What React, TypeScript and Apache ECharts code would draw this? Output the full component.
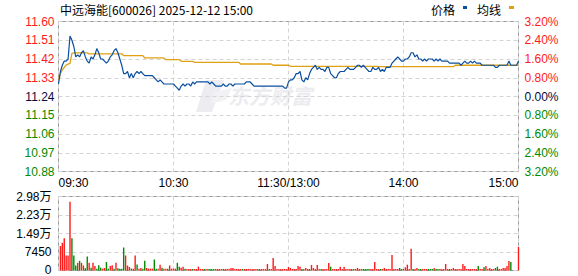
import React, { useEffect, useRef } from "react";
import * as echarts from "echarts";

// ---- data ----
const timeLabels = ["09:30", "10:30", "11:30/13:00", "14:00", "15:00"];
const priceTicks = ["10.88", "10.97", "11.06", "11.15", "11.24", "11.33", "11.42", "11.51", "11.60"];
const pctTicks = ["3.20%", "2.40%", "1.60%", "0.80%", "0.00%", "0.80%", "1.60%", "2.40%", "3.20%"];
const volTicks = ["0", "7450", "1.49万", "2.23万", "2.98万"];
const priceMin = 10.88;
const priceMax = 11.6;
const volMax = 29800;

const prices = [
  11.30, 11.36, 11.39, 11.41, 11.41, 11.42, 11.53, 11.51, 11.48, 11.43,
  11.44, 11.43, 11.45, 11.46, 11.43, 11.41, 11.40, 11.43, 11.42, 11.44,
  11.47, 11.45, 11.42, 11.42, 11.41, 11.40, 11.41, 11.43, 11.44, 11.46,
  11.47, 11.45, 11.42, 11.39, 11.35, 11.35, 11.36, 11.33, 11.35, 11.33,
  11.35, 11.36, 11.35, 11.36, 11.35, 11.34, 11.34, 11.34, 11.34, 11.34,
  11.33, 11.32, 11.31, 11.32, 11.31, 11.30, 11.30, 11.30, 11.30, 11.30,
  11.30, 11.29, 11.28, 11.27, 11.29, 11.30, 11.29, 11.30, 11.30, 11.29,
  11.31, 11.30, 11.31, 11.31, 11.31, 11.31, 11.31, 11.31, 11.31, 11.30,
  11.31, 11.30, 11.29, 11.29, 11.29, 11.29, 11.30, 11.29, 11.29, 11.30,
  11.30, 11.29, 11.30, 11.30, 11.30, 11.30, 11.30, 11.30, 11.31, 11.31,
  11.31, 11.30, 11.29, 11.29, 11.29, 11.29, 11.29, 11.29, 11.29, 11.29,
  11.29, 11.29, 11.29, 11.29, 11.29, 11.29, 11.29, 11.29, 11.28, 11.28,
  11.31, 11.32, 11.32, 11.33, 11.35, 11.35, 11.36, 11.32, 11.31, 11.33,
  11.32, 11.35, 11.37, 11.38, 11.39, 11.37, 11.38, 11.37, 11.37, 11.36,
  11.38, 11.38, 11.35, 11.34, 11.33, 11.33, 11.35, 11.36, 11.36, 11.36,
  11.37, 11.38, 11.37, 11.37, 11.37, 11.38, 11.39, 11.39, 11.38, 11.39,
  11.38, 11.37, 11.36, 11.36, 11.38, 11.37, 11.37, 11.38, 11.36, 11.37,
  11.36, 11.38, 11.38, 11.38, 11.40, 11.41, 11.42, 11.43, 11.42, 11.41,
  11.41, 11.42, 11.42, 11.43, 11.45, 11.45, 11.43, 11.44, 11.42, 11.42,
  11.41, 11.42, 11.41, 11.42, 11.42, 11.42, 11.41, 11.42, 11.41, 11.42,
  11.41, 11.41, 11.41, 11.41, 11.40, 11.40, 11.40, 11.40, 11.40, 11.40,
  11.39, 11.40, 11.41, 11.40, 11.40, 11.41, 11.40, 11.41, 11.40, 11.40,
  11.40, 11.39, 11.39, 11.39, 11.39, 11.39, 11.39, 11.39, 11.38, 11.38,
  11.39, 11.39, 11.39, 11.39, 11.39, 11.41, 11.39, 11.39, 11.39, 11.39,
  11.41,
];

const avgPrices = [
  11.319, 11.350, 11.367, 11.380, 11.391, 11.395, 11.399, 11.447, 11.449, 11.449,
  11.449, 11.449, 11.449, 11.449, 11.449, 11.449, 11.445, 11.445, 11.445, 11.445,
  11.445, 11.445, 11.445, 11.445, 11.445, 11.445, 11.445, 11.445, 11.445, 11.445,
  11.445, 11.445, 11.445, 11.445, 11.436, 11.436, 11.436, 11.436, 11.436, 11.436,
  11.436, 11.436, 11.436, 11.436, 11.436, 11.425, 11.425, 11.425, 11.425, 11.425,
  11.425, 11.425, 11.425, 11.425, 11.425, 11.425, 11.417, 11.417, 11.417, 11.417,
  11.417, 11.417, 11.417, 11.417, 11.409, 11.409, 11.409, 11.409, 11.409, 11.409,
  11.409, 11.404, 11.404, 11.404, 11.404, 11.404, 11.404, 11.404, 11.404, 11.404,
  11.404, 11.404, 11.404, 11.404, 11.404, 11.404, 11.404, 11.404, 11.404, 11.404,
  11.404, 11.404, 11.404, 11.404, 11.404, 11.396, 11.396, 11.396, 11.396, 11.396,
  11.396, 11.396, 11.396, 11.396, 11.396, 11.396, 11.396, 11.396, 11.396, 11.396,
  11.396, 11.396, 11.390, 11.390, 11.390, 11.390, 11.390, 11.390, 11.390, 11.390,
  11.390, 11.385, 11.385, 11.385, 11.385, 11.385, 11.385, 11.385, 11.385, 11.385,
  11.385, 11.385, 11.385, 11.385, 11.385, 11.385, 11.385, 11.385, 11.385, 11.385,
  11.385, 11.385, 11.385, 11.385, 11.385, 11.385, 11.385, 11.385, 11.385, 11.385,
  11.385, 11.385, 11.385, 11.385, 11.385, 11.385, 11.385, 11.385, 11.385, 11.385,
  11.385, 11.385, 11.385, 11.385, 11.385, 11.385, 11.385, 11.383, 11.383, 11.383,
  11.383, 11.383, 11.383, 11.383, 11.383, 11.383, 11.383, 11.383, 11.383, 11.383,
  11.383, 11.383, 11.383, 11.383, 11.383, 11.383, 11.383, 11.383, 11.383, 11.383,
  11.383, 11.383, 11.383, 11.383, 11.383, 11.383, 11.383, 11.383, 11.383, 11.383,
  11.383, 11.383, 11.383, 11.383, 11.383, 11.383, 11.383, 11.390, 11.390, 11.390,
  11.390, 11.390, 11.390, 11.390, 11.390, 11.390, 11.390, 11.390, 11.390, 11.390,
  11.390, 11.390, 11.390, 11.390, 11.390, 11.390, 11.390, 11.390, 11.390, 11.390,
  11.390, 11.390, 11.390, 11.390, 11.390, 11.390, 11.390, 11.390, 11.390, 11.390,
  11.390,
];

const volumes = [
  0, 9870, 11150, 13020, 6040, 6040, 27700, 13020, 6040, 2010,
  3090, 3890, 3090, 2010, 940, 5640, 3090, 1140, 3090, 1810,
  740, 2080, 1140, 740, 1000, 3420, 740, 1810, 2080, 740,
  3090, 900, 740, 740, 9260, 6040, 2010, 1400, 740, 700,
  6040, 2420, 740, 1000, 740, 3890, 1000, 740, 740, 740,
  4430, 740, 740, 2280, 1140, 740, 740, 740, 2010, 740,
  740, 740, 3090, 1540, 1140, 1540, 740, 600, 600, 600,
  600, 600, 600, 1540, 600, 600, 600, 600, 600, 600,
  600, 600, 600, 600, 600, 600, 600, 600, 600, 600,
  1000, 1000, 600, 600, 600, 600, 600, 600, 600, 600,
  600, 600, 600, 600, 600, 600, 600, 600, 600, 2620,
  600, 600, 5030, 1810, 600, 600, 600, 600, 600, 600,
  1400, 1000, 600, 600, 600, 1810, 1540, 600, 600, 1000,
  600, 600, 2210, 1000, 600, 2210, 600, 600, 600, 600,
  600, 3020, 1540, 600, 600, 600, 600, 1540, 600, 1540,
  600, 600, 600, 600, 600, 600, 1000, 600, 600, 600,
  600, 600, 600, 600, 600, 3420, 600, 600, 600, 600,
  1000, 600, 600, 600, 6240, 600, 600, 600, 1000, 600,
  600, 1270, 2350, 600, 8790, 600, 600, 1000, 600, 600,
  600, 600, 600, 600, 600, 600, 1000, 600, 600, 600,
  600, 600, 2620, 600, 600, 600, 1000, 600, 600, 600,
  600, 2620, 1810, 600, 600, 600, 600, 600, 600, 1810,
  600, 600, 1270, 1810, 600, 1000, 600, 600, 1000, 1540,
  600, 600, 1000, 1000, 1810, 3820, 3420, 0, 0, 0,
  9460,
];

// r = up (red), g = down (green)
const volDirections = [
  "rrrrrrrggg", "rgrrggrgrr", "gggrrggrrg", "rggggrrrgr", "rgrrggrrrr",
  "ggrrgrrgrr", "rrggrrgrrr", "grrrrrgrgg", "ggrrrrgrrr", "rrrrrrgrrr",
  "rrrrgrrrrr", "grrrrrrrrr", "rrrrrrrgrr", "rgrrrrrgrr", "rrgrrrrrrr",
  "rrrgrrrrrg", "gggrrrrrgr", "rrrrrrrrgg", "rrrrrgrrgg", "rrrgggrggr",
  "rrrrgrrrrr", "rrrrrrrrrg", "rrgrrrrrgg", "rrrrrrgrrr", "r",
].join("");

// ---- styles ----
const RED = "#ff1a1a";
const GREEN = "#008a00";
const NEUTRAL = "#0a0a3c";
const BLUE = "#0a4fa0";
const GOLD = "#dfa014";
const BORDER = "#999999";
const DASH = "#d4d4d4";
const FONT = "Arial, 'Liberation Sans', sans-serif";
const CJK = "'Noto Sans CJK SC', Arial, sans-serif";
const MIXED = "Arial, 'Liberation Sans', 'Noto Sans CJK SC', sans-serif";

function tickColor(i: number) {
  if (i > 4) return RED;
  if (i < 4) return GREEN;
  return NEUTRAL;
}

export default function App() {
  const ref = useRef<HTMLDivElement>(null);

  useEffect(() => {
    if (!ref.current) return;
    const chart = echarts.init(ref.current, null, { renderer: "svg" });

    const dashed = { show: true, lineStyle: { color: DASH, type: [4, 3] as any, width: 1 } };
    const gridBase = { show: true, borderColor: BORDER, borderWidth: 1, backgroundColor: "transparent", left: 58.5, width: 460 };

    chart.setOption({
      animation: false,
      grid: [
        { ...gridBase, top: 21.5, height: 150 },
        { ...gridBase, top: 196.5, height: 74 },
      ],
      xAxis: [
        {
          gridIndex: 0, type: "value", min: 0, max: 240, interval: 60,
          axisLine: { show: false }, axisTick: { show: false },
          axisLabel: {
            formatter: (v: number) => timeLabels[Math.round(v / 60)],
            color: "#000", fontSize: 12, fontFamily: FONT, margin: 5,
            alignMinLabel: "left", alignMaxLabel: "right",
          },
          splitLine: dashed,
        },
        {
          gridIndex: 1, type: "value", min: 0, max: 240, interval: 60,
          axisLine: { show: false }, axisTick: { show: false },
          axisLabel: { show: false },
          splitLine: dashed,
        },
      ],
      yAxis: [
        {
          gridIndex: 0, type: "value", min: priceMin, max: priceMax, position: "left",
          axisLine: { show: false }, axisTick: { show: false },
          axisLabel: { show: false }, splitLine: { show: false },
        },
        {
          gridIndex: 0, type: "value", min: 0, max: 8, interval: 1, position: "left",
          axisLine: { show: false }, axisTick: { show: false },
          axisLabel: {
            formatter: (v: number) => priceTicks[Math.round(v)],
            color: (v: any) => tickColor(Math.round(Number(v))),
            fontSize: 12, fontFamily: FONT, margin: 4,
          },
          splitLine: dashed,
        },
        {
          gridIndex: 0, type: "value", min: 0, max: 8, interval: 1, position: "right",
          axisLine: { show: false }, axisTick: { show: false },
          axisLabel: {
            formatter: (v: number) => pctTicks[Math.round(v)],
            color: (v: any) => tickColor(Math.round(Number(v))),
            fontSize: 12, fontFamily: FONT, margin: 6,
          },
          splitLine: { show: false },
        },
        {
          gridIndex: 1, type: "value", min: 0, max: volMax, interval: volMax / 4, position: "left",
          axisLine: { show: false }, axisTick: { show: false },
          axisLabel: {
            showMinLabel: false,
            formatter: (v: number) => volTicks[Math.round((v / volMax) * 4)],
            color: "#000", fontSize: 12, fontFamily: MIXED, margin: 7,
          },
          splitLine: dashed,
        },
      ],
      graphic: [
        {
          type: "text", left: 60, top: 3, z: 10,
          style: { text: "中远海能[600026] 2025-12-12 15:00", fill: "#000", font: `12px ${CJK}` },
        },
        { type: "text", left: 431, top: 3, style: { text: "价格", fill: "#000", font: `12px ${CJK}` } },
        { type: "rect", shape: { x: 463, y: 6, width: 4, height: 3 }, style: { fill: BLUE } },
        { type: "text", left: 477, top: 3, style: { text: "均线", fill: "#000", font: `12px ${CJK}` } },
        { type: "rect", shape: { x: 509, y: 6, width: 5, height: 3 }, style: { fill: GOLD } },
        // bottom volume tick label (kept inside the page)
        {
          type: "text", x: 51.5, y: 275.5,
          style: { text: volTicks[0], fill: "#000", font: `12px ${FONT}`, align: "right", verticalAlign: "bottom" },
        },
        // watermark
        {
          type: "group", z: 1, silent: true,
          children: [
            { type: "polygon", shape: { points: [[206, 80], [224, 80], [212, 112], [196, 112]] }, style: { fill: "#ededf1" } },
            { type: "polygon", shape: { points: [[214, 92], [232, 88], [226, 100], [210, 104]] }, style: { fill: "#f2f2f5" } },
            {
              type: "text", x: 228, y: 84,
              style: { text: "东方财富", fill: "#ececf0", font: `italic bold 21px ${CJK}` },
            },
          ],
        },
      ],
      series: [
        {
          name: "均线", type: "line", xAxisIndex: 0, yAxisIndex: 0,
          data: avgPrices.map((p, i) => [i, p]),
          showSymbol: false, lineStyle: { color: GOLD, width: 1.3 }, itemStyle: { color: GOLD }, z: 3,
        },
        {
          name: "价格", type: "line", xAxisIndex: 0, yAxisIndex: 0,
          data: prices.map((p, i) => [i, p]),
          showSymbol: false, lineStyle: { color: BLUE, width: 1.2 }, itemStyle: { color: BLUE }, z: 4,
        },
        {
          name: "成交量", type: "bar", xAxisIndex: 1, yAxisIndex: 3,
          data: volumes.map((v, i) => [i, v]),
          barWidth: 1.4,
          itemStyle: { color: (p: any) => (volDirections[p.dataIndex] === "g" ? GREEN : RED) },
        },
      ],
    });

    return () => chart.dispose();
  }, []);

  return (
    <div
      ref={ref}
      style={{ position: "absolute", left: 0, top: 0, width: 578, height: 276, background: "#fff" }}
    />
  );
}
